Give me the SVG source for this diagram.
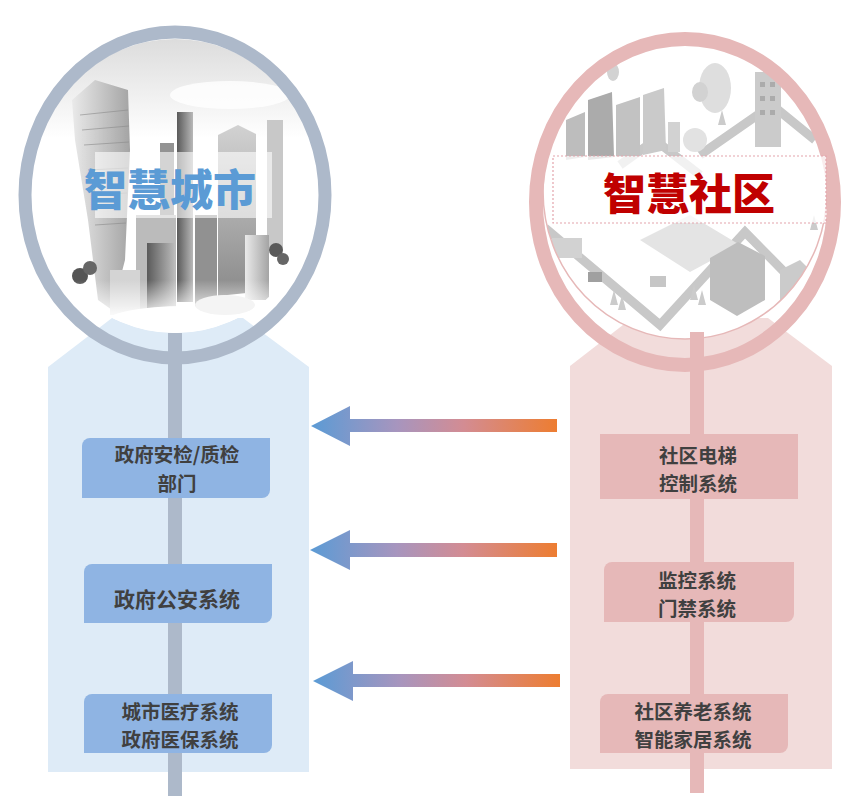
<svg xmlns="http://www.w3.org/2000/svg" width="866" height="810" viewBox="0 0 866 810">
<defs>
<style>
.lbl{font-family:"Noto Sans CJK SC","Noto Sans",sans-serif;font-weight:700;font-size:21px;fill:#404040;text-anchor:middle;dominant-baseline:central}
.lbl2{font-size:19.5px}
.title{font-family:"Noto Sans CJK SC","Noto Sans",sans-serif;font-weight:900;font-size:43px;text-anchor:middle;dominant-baseline:central}
.boxL{fill:#8FB4E3}
.boxR{fill:#E6B8B8}
.arrow{fill:url(#gArrow)}
</style>
<linearGradient id="gArrow" x1="0" y1="0" x2="1" y2="0">
<stop offset="0" stop-color="#5B9BD5"/>
<stop offset="0.35" stop-color="#A795BE"/>
<stop offset="0.62" stop-color="#D38C93"/>
<stop offset="1" stop-color="#ED7D31"/>
</linearGradient>
<linearGradient id="gSky" x1="0" y1="0" x2="0" y2="1">
<stop offset="0" stop-color="#DCDCDC"/>
<stop offset="1" stop-color="#FFFFFF"/>
</linearGradient>
<linearGradient id="gB1" x1="0" y1="0" x2="1" y2="0">
<stop offset="0" stop-color="#EAEAEA"/>
<stop offset="1" stop-color="#A4A4A4"/>
</linearGradient>
<linearGradient id="gB2" x1="0" y1="0" x2="1" y2="0">
<stop offset="0" stop-color="#5A5A5A"/>
<stop offset="1" stop-color="#B8B8B8"/>
</linearGradient>
<linearGradient id="gB3" x1="0" y1="0" x2="0" y2="1">
<stop offset="0" stop-color="#D2D2D2"/>
<stop offset="1" stop-color="#8A8A8A"/>
</linearGradient>
<linearGradient id="gFade" x1="0" y1="0" x2="0" y2="1">
<stop offset="0" stop-color="#FFFFFF" stop-opacity="0"/>
<stop offset="1" stop-color="#FFFFFF" stop-opacity="1"/>
</linearGradient>
<clipPath id="clipL"><ellipse cx="175" cy="186" rx="143" ry="147"/></clipPath>
<clipPath id="clipR"><ellipse cx="685" cy="191" rx="142" ry="148"/></clipPath>
</defs>

<!-- LEFT: smart city -->
<g id="panel-city">
<polygon points="48,367 112,318 243,318 309,367 309,772 48,772" fill="#DEEBF7"/>
</g>
<g id="city-image" clip-path="url(#clipL)">
<ellipse cx="175" cy="186" rx="143" ry="147" fill="#FFFFFF"/>
<rect x="30" y="38" width="290" height="100" fill="url(#gSky)"/>
<ellipse cx="230" cy="95" rx="60" ry="14" fill="#FFFFFF" opacity="0.8"/>
<polygon points="72,100 95,80 128,90 130,150 125,260 112,310 98,300 88,220 75,140" fill="url(#gB1)"/>
<g stroke="#8A8A8A" stroke-width="1" opacity="0.6">
<line x1="80" y1="115" x2="128" y2="110"/><line x1="82" y1="130" x2="129" y2="126"/>
<line x1="84" y1="145" x2="129" y2="142"/><line x1="88" y1="170" x2="128" y2="168"/>
<line x1="92" y1="195" x2="127" y2="193"/><line x1="95" y1="225" x2="126" y2="223"/>
</g>
<rect x="177" y="112" width="16" height="190" fill="url(#gB2)"/>
<polygon points="218,135 238,125 256,134 256,292 218,296" fill="url(#gB3)"/>
<rect x="267" y="120" width="16" height="130" fill="#C8C8C8"/>
<rect x="160" y="143" width="14" height="160" fill="#939393"/>
<rect x="136" y="215" width="40" height="105" fill="#BBBBBB"/>
<rect x="147" y="243" width="27" height="80" fill="url(#gB2)"/>
<rect x="195" y="215" width="22" height="95" fill="#919191"/>
<rect x="245" y="235" width="24" height="65" fill="url(#gB1)"/>
<rect x="110" y="270" width="30" height="45" fill="#D4D4D4"/>
<circle cx="80" cy="276" r="8" fill="#555"/><circle cx="90" cy="268" r="7" fill="#666"/>
<circle cx="276" cy="250" r="7" fill="#5A5A5A"/><circle cx="283" cy="259" r="6" fill="#666"/>
<rect x="30" y="280" width="290" height="40" fill="url(#gFade)"/>
<ellipse cx="185" cy="322" rx="80" ry="16" fill="#FFFFFF"/>
<ellipse cx="225" cy="305" rx="30" ry="10" fill="#F4F4F4"/>
</g>
<g id="city-ring">
<ellipse cx="175" cy="195" rx="150" ry="163" fill="none" stroke="#ADB9CA" stroke-width="13"/>
<rect x="168" y="333" width="14" height="463" fill="#ADB9CA"/>
</g>
<g id="city-title">
<rect x="95" y="152" width="177" height="66" fill="#FFFFFF" opacity="0.6"/>
<text class="title" x="170" y="187" fill="#5B9BD5">智慧城市</text>
</g>

<!-- RIGHT: smart community -->
<g id="panel-community">
<polygon points="570,366 632,318 768,318 832,366 832,769 570,769" fill="#F2DCDB"/>
</g>
<g id="community-image" clip-path="url(#clipR)">
<ellipse cx="685" cy="191" rx="142" ry="148" fill="#FFFFFF"/>
<g fill="none" stroke="#C8C8C8" stroke-width="9" stroke-linejoin="miter">
<polyline points="545,228 660,325 745,232 800,288"/>
<polyline points="700,155 772,105 815,140"/>
<polyline points="620,165 655,140 700,175"/>
</g>
<polygon points="640,240 690,215 740,245 690,272" fill="#E4E4E4"/>
<polygon points="566,120 585,112 585,157 566,160" fill="#BDBDBD"/>
<polygon points="588,100 612,92 614,157 588,160" fill="#ABABAB"/>
<polygon points="616,105 640,97 640,157 616,157" fill="#C2C2C2"/>
<polygon points="643,95 664,88 666,150 643,155" fill="#CACACA"/>
<rect x="668" y="122" width="12" height="30" fill="#D2D2D2"/>
<rect x="755" y="72" width="26" height="75" fill="#CBCBCB"/>
<g fill="#ABABAB"><rect x="760" y="82" width="5" height="5"/><rect x="770" y="82" width="5" height="5"/><rect x="760" y="96" width="5" height="5"/><rect x="770" y="96" width="5" height="5"/><rect x="760" y="110" width="5" height="5"/><rect x="770" y="110" width="5" height="5"/></g>
<ellipse cx="715" cy="88" rx="16" ry="25" fill="#DEDEDE"/>
<ellipse cx="700" cy="92" rx="8" ry="10" fill="#D2D2D2"/>
<circle cx="695" cy="140" r="12" fill="#E2E2E2"/>
<ellipse cx="613" cy="72" rx="6" ry="9" fill="#D2D2D2"/>
<polygon points="710,258 738,242 765,256 765,300 737,316 710,300" fill="#BEBEBE"/>
<polygon points="780,270 800,260 810,270 810,305 790,315 780,305" fill="#CBCBCB"/>
<rect x="552" y="238" width="30" height="20" fill="#D2D2D2"/>
<rect x="588" y="272" width="14" height="10" fill="#A0A0A0"/>
<rect x="650" y="276" width="16" height="11" fill="#C6C6C6"/>
<g fill="#CBCBCB">
<polygon points="610,305 614,290 618,305"/><polygon points="618,310 622,295 626,310"/>
<polygon points="690,300 694,285 698,300"/><polygon points="698,305 702,290 706,305"/>
<polygon points="810,230 814,215 818,230"/><polygon points="718,125 722,110 726,125"/>
</g>
</g>
<g id="community-ring">
<ellipse cx="685" cy="191" rx="142" ry="148" fill="none" stroke="#E6B8B8" stroke-width="1.5"/>
<ellipse cx="685" cy="202" rx="149" ry="163" fill="none" stroke="#E6B8B8" stroke-width="14"/>
<rect x="690" y="332" width="14" height="461" fill="#E6B8B8"/>
</g>
<g id="community-title">
<rect x="553" y="156" width="273" height="67" fill="#FFFFFF" fill-opacity="0.75" stroke="#E3A3AB" stroke-width="1.2" stroke-dasharray="2 2"/>
<text class="title" x="689" y="191" fill="#C00000">智慧社区</text>
</g>

<!-- left nodes -->
<g id="node-gov-inspection">
<path class="boxL" d="M90,438 H270 V490 A8,8 0 0 1 262,498 H82 V446 A8,8 0 0 1 90,438 Z"/>
<text class="lbl lbl2" x="177" y="453.8">政府安检/质检</text>
<text class="lbl lbl2" x="177" y="482.2">部门</text>
</g>
<g id="node-gov-police">
<path class="boxL" d="M92,564 H272 V615 A8,8 0 0 1 264,623 H84 V572 A8,8 0 0 1 92,564 Z"/>
<text class="lbl" x="177" y="598">政府公安系统</text>
</g>
<g id="node-city-medical">
<path class="boxL" d="M92,694 H272 V745 A8,8 0 0 1 264,753 H84 V702 A8,8 0 0 1 92,694 Z"/>
<text class="lbl lbl2" x="180" y="710.3">城市医疗系统</text>
<text class="lbl lbl2" x="180" y="738.7">政府医保系统</text>
</g>

<!-- right nodes -->
<g id="node-elevator">
<rect class="boxR" x="600" y="434" width="198" height="65"/>
<text class="lbl lbl2" x="698" y="454.3">社区电梯</text>
<text class="lbl lbl2" x="698" y="482.7">控制系统</text>
</g>
<g id="node-monitor">
<path class="boxR" d="M612,562 H794 V614 A8,8 0 0 1 786,622 H604 V570 A8,8 0 0 1 612,562 Z"/>
<text class="lbl lbl2" x="697" y="579.3">监控系统</text>
<text class="lbl lbl2" x="697" y="607.7">门禁系统</text>
</g>
<g id="node-elderly">
<path class="boxR" d="M608,694 H788 V745 A8,8 0 0 1 780,753 H600 V702 A8,8 0 0 1 608,694 Z"/>
<text class="lbl lbl2" x="693" y="710.3">社区养老系统</text>
<text class="lbl lbl2" x="693" y="738.7">智能家居系统</text>
</g>

<!-- connectors -->
<g id="connectors">
<path class="arrow" d="M311,426 L350,406 L350,419 L557,419 L557,432 L350,432 L350,446 Z"/>
<path class="arrow" d="M310,550 L350,530 L350,543 L557,543 L557,557 L350,557 L350,570 Z"/>
<path class="arrow" d="M313,681 L353,661 L353,674 L560,674 L560,687 L353,687 L353,701 Z"/>
</g>
</svg>
